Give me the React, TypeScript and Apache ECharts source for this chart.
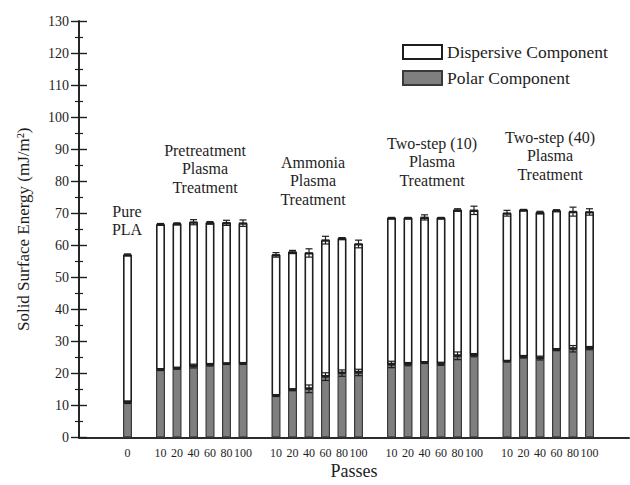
import React, { useEffect, useRef } from "react";
import * as echarts from "echarts";

const categories = [
  "0", "",
  "10", "20", "40", "60", "80", "100", "",
  "10", "20", "40", "60", "80", "100", "",
  "10", "20", "40", "60", "80", "100", "",
  "10", "20", "40", "60", "80", "100",
];

const polar = [
  11.0, null,
  21.2, 21.6, 22.3, 22.7, 23.0, 23.1, null,
  13.1, 14.9, 15.2, 19.0, 20.1, 20.3, null,
  22.8, 22.9, 23.4, 23.0, 25.5, 25.7, null,
  23.8, 25.2, 24.8, 27.4, 27.7, 27.9,
];

const dispersive = [
  46.0, null,
  45.3, 45.1, 44.9, 44.3, 44.0, 43.8, null,
  43.9, 43.0, 42.4, 42.6, 42.0, 40.1, null,
  45.7, 45.6, 45.3, 45.5, 45.5, 45.2, null,
  46.2, 45.8, 45.4, 43.4, 42.8, 42.5,
];

const polarErr = [
  0.4, null,
  0.3, 0.3, 0.6, 0.4, 0.2, 0.3, null,
  0.3, 0.3, 1.2, 1.2, 1.0, 1.0, null,
  1.0, 0.5, 0.3, 0.5, 1.2, 0.5, null,
  0.2, 0.4, 0.6, 0.3, 1.0, 0.5,
];

const totalErr = [
  0.3, null,
  0.3, 0.3, 0.8, 0.4, 0.8, 1.0, null,
  0.7, 0.5, 1.3, 1.2, 0.3, 1.2, null,
  0.2, 0.2, 0.8, 0.2, 0.4, 1.3, null,
  0.9, 0.2, 0.4, 0.3, 1.4, 1.0,
];

const yTicks = { min: 0, max: 130, interval: 10 };

const groupNotes = [
  { lines: ["Pure", "PLA"], x: 127, y: 202 },
  { lines: ["Pretreatment", "Plasma", "Treatment"], x: 205, y: 141 },
  { lines: ["Ammonia", "Plasma", "Treatment"], x: 313, y: 153 },
  { lines: ["Two-step (10)", "Plasma", "Treatment"], x: 432, y: 134 },
  { lines: ["Two-step (40)", "Plasma", "Treatment"], x: 550, y: 128 },
];

const FONT = "Liberation Serif, Times New Roman, serif";
const INK = "#1e1e1e";

export default function App() {
  const ref = useRef<HTMLDivElement>(null);

  useEffect(() => {
    if (!ref.current) return;
    const chart = echarts.init(ref.current, undefined, { renderer: "svg" });

    const errData: any[] = [];
    categories.forEach((_, i) => {
      const p = polar[i];
      const d = dispersive[i];
      if (p == null || d == null) return;
      errData.push([i, p, polarErr[i]]);
      errData.push([i, p + d, totalErr[i]]);
    });

    const axisLine = { show: true, lineStyle: { color: INK, width: 1.6 } };

    const option: any = {
      animation: false,
      backgroundColor: "#ffffff",
      textStyle: { fontFamily: FONT },
      grid: [
        { left: 79, right: 1, top: 21, height: 416.5, outerBoundsMode: "none", containLabel: false },
        { left: 119.25, width: 478.5, top: 21, height: 416.5, outerBoundsMode: "none", containLabel: false },
      ],
      legend: {
        data: ["Dispersive Component", "Polar Component"],
        orient: "vertical",
        left: 397,
        top: 38,
        itemWidth: 39,
        itemHeight: 14,
        itemGap: 8,
        icon: "rect",
        textStyle: { fontFamily: FONT, fontSize: 17.5, color: INK, padding: [0, 0, 0, 0] },
      },
      xAxis: [
        {
          gridIndex: 0, type: "value", min: 0, max: 1, position: "bottom",
          axisLine, axisTick: { show: false }, axisLabel: { show: false }, splitLine: { show: false },
          name: "Passes", nameLocation: "middle", nameGap: 24,
          nameTextStyle: { fontFamily: FONT, fontSize: 18, color: INK },
        },
        {
          gridIndex: 0, type: "value", min: 0, max: 1, position: "top",
          axisLine, axisTick: { show: false }, axisLabel: { show: false }, splitLine: { show: false },
        },
        {
          gridIndex: 1, type: "category", data: categories, position: "bottom",
          axisLine: { show: false }, axisTick: { show: false },
          axisLabel: { interval: 0, fontFamily: FONT, fontSize: 12, color: INK, margin: 9 },
        },
      ],
      yAxis: [
        {
          gridIndex: 0, type: "value", ...yTicks, position: "left",
          axisLine,
          axisTick: { show: true, inside: true, length: 8, lineStyle: { color: INK, width: 1.4 } },
          minorTick: { show: true, splitNumber: 2, length: 4, lineStyle: { color: INK, width: 1.2 } },
          axisLabel: { fontFamily: FONT, fontSize: 14, color: INK, margin: 10 },
          splitLine: { show: false },
          name: "Solid Surface Energy (mJ/m²)", nameLocation: "middle", nameGap: 47,
          nameTextStyle: { fontFamily: FONT, fontSize: 17, color: INK },
        },
        {
          gridIndex: 0, type: "value", ...yTicks, position: "right",
          axisLine,
          axisTick: { show: true, inside: true, length: 8, lineStyle: { color: INK, width: 1.4 } },
          minorTick: { show: true, splitNumber: 2, length: 4, lineStyle: { color: INK, width: 1.2 } },
          axisLabel: { show: false }, splitLine: { show: false },
        },
        {
          gridIndex: 1, type: "value", ...yTicks, show: false, splitLine: { show: false },
        },
      ],
      series: [
        {
          name: "Polar Component", type: "bar", stack: "total",
          xAxisIndex: 2, yAxisIndex: 2, data: polar, barWidth: 9,
          itemStyle: { color: "#7f7f7f", borderColor: "#3a3a3a", borderWidth: 1.2 },
        },
        {
          name: "Dispersive Component", type: "bar", stack: "total",
          xAxisIndex: 2, yAxisIndex: 2, data: dispersive, barWidth: 9,
          itemStyle: { color: "#ffffff", borderColor: INK, borderWidth: 1.6 },
        },
        {
          name: "err", type: "custom", xAxisIndex: 2, yAxisIndex: 2, data: errData,
          encode: { x: 0, y: 1 }, z: 5,
          renderItem: (_params: any, api: any) => {
            const x = api.value(0);
            const v = api.value(1);
            const e = api.value(2);
            const top = api.coord([x, v + e]);
            const bot = api.coord([x, v - e]);
            const mid = api.coord([x, v]);
            const hw = 3.5;
            const st = { stroke: INK, lineWidth: 1.2, fill: "none" };
            return {
              type: "group",
              children: [
                { type: "line", shape: { x1: top[0], y1: top[1], x2: bot[0], y2: bot[1] }, style: st },
                { type: "line", shape: { x1: top[0] - hw, y1: top[1], x2: top[0] + hw, y2: top[1] }, style: st },
                { type: "line", shape: { x1: bot[0] - hw, y1: bot[1], x2: bot[0] + hw, y2: bot[1] }, style: st },
                { type: "line", shape: { x1: mid[0] - 4, y1: mid[1], x2: mid[0] + 4, y2: mid[1] }, style: { stroke: INK, lineWidth: 1.6 } },
              ],
            };
          },
        },
      ],
      graphic: groupNotes.map((n) => ({
        type: "text",
        x: n.x,
        y: n.y,
        style: {
          text: n.lines.join("\n"),
          fontFamily: FONT,
          fontSize: 16,
          lineHeight: 18.5,
          fill: INK,
          align: "center",
          verticalAlign: "top",
        },
      })),
    };

    chart.setOption(option);
    return () => chart.dispose();
  }, []);

  return (
    <div
      ref={ref}
      style={{ position: "fixed", left: 0, top: 0, width: 630, height: 485, background: "#fff" }}
    />
  );
}
